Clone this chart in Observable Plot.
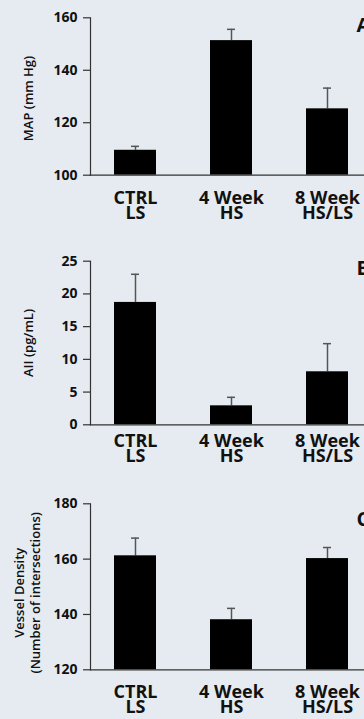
<!DOCTYPE html>
<html>
<head>
<meta charset="utf-8">
<script src="https://cdn.jsdelivr.net/npm/d3@7"></script>
<script src="https://cdn.jsdelivr.net/npm/@observablehq/plot@0.6"></script>
<style>
  html, body { margin: 0; padding: 0; background: #e5ebf1; overflow: hidden; }
  #wrap { width: 364px; height: 719px; overflow: hidden; }
  #wrap svg { display: block; overflow: hidden; }
</style>
</head>
<body>
<div id="wrap"></div>
<script>
const categories = ["CTRL LS", "4 Week HS", "8 Week HS/LS"];
const categoryLabels = ["CTRL\nLS", "4 Week\nHS", "8 Week\nHS/LS"];

const mapMean = [109.5, 151.3, 125.3];
const mapSem  = [1.5, 4.3, 7.9];
const mapTicks = [100, 120, 140, 160];

const aiiMean = [18.7, 2.9, 8.1];
const aiiSem  = [4.3, 1.3, 4.3];
const aiiTicks = [0, 5, 10, 15, 20, 25];

const vdMean = [161.2, 138.1, 160.2];
const vdSem  = [6.4, 4.1, 4.0];
const vdTicks = [120, 140, 160, 180];

const panelLetters = ["A", "B", "C"];
const yLabels = ["MAP (mm Hg)", "AII (pg/mL)", "Vessel Density\n(Number of intersections)"];

const FONT = "'Open Sans', Lato, sans-serif";

const panels = [
  {mean: mapMean, sem: mapSem, ticks: mapTicks, letter: panelLetters[0], ylabel: yLabels[0],
   height: 240, mt: 17.3, mb: 65.3, labelGap: 18, letterDy: 7.5, ylabelDy: 2, ylabelDx: -63},
  {mean: aiiMean, sem: aiiSem, ticks: aiiTicks, letter: panelLetters[1], ylabel: yLabels[1],
   height: 240, mt: 20.7, mb: 55.7, labelGap: 11, letterDy: 7, ylabelDy: 0, ylabelDx: -63},
  {mean: vdMean, sem: vdSem, ticks: vdTicks, letter: panelLetters[2], ylabel: yLabels[2],
   height: 239, mt: 23.3, mb: 49.7, labelGap: 17, letterDy: 15.7, ylabelDy: 6, ylabelDx: -64}
];

const wrap = document.getElementById("wrap");

for (const p of panels) {
  const data = categories.map((c, i) => ({cat: c, label: categoryLabels[i], mean: p.mean[i], hi: p.mean[i] + p.sem[i]}));
  const y0 = p.ticks[0], y1 = p.ticks[p.ticks.length - 1];
  const chart = Plot.plot({
    width: 364,
    height: p.height,
    marginLeft: 90,
    marginRight: 0,
    marginTop: p.mt,
    marginBottom: p.mb,
    style: {background: "transparent", fontFamily: FONT, color: "#111"},
    x: {domain: categories, range: [90, 371], paddingInner: 0.567, paddingOuter: 0.242, axis: null},
    y: {domain: [y0, y1], axis: null},
    marks: [
      Plot.ruleX(data, {x: "cat", y1: "mean", y2: "hi", stroke: "#555", strokeWidth: 1.5}),
      Plot.tickY(data, {x: "cat", y: "hi", stroke: "#555", strokeWidth: 1.5, insetLeft: 17, insetRight: 17}),
      Plot.barY(data, {x: "cat", y1: () => y0, y2: "mean", fill: "#000"}),
      Plot.axisY({ticks: p.ticks, tickSize: 7, tickPadding: 6, fontSize: 14, fontWeight: 700, stroke: "#333", fill: "#111", label: null, strokeWidth: 1.2}),
      Plot.frame({anchor: "left", stroke: "#333", strokeWidth: 1.2}),
      Plot.frame({anchor: "bottom", stroke: "#333", strokeWidth: 1.2}),
      Plot.text(data, {x: "cat", text: "label", frameAnchor: "bottom", lineAnchor: "top", dy: p.labelGap,
        fontSize: 18, fontWeight: 700, lineHeight: 0.85, fill: "#111"}),
      Plot.text([p.letter], {frameAnchor: "top-right", textAnchor: "start", lineAnchor: "middle",
        dx: -8, dy: p.letterDy, fontSize: 20, fontWeight: 700, fill: "#111"}),
      Plot.text([p.ylabel], {frameAnchor: "left", textAnchor: "middle", lineAnchor: "middle", rotate: -90,
        dx: p.ylabelDx, dy: p.ylabelDy, fontSize: 13, fontWeight: 600, lineHeight: 1.25, fill: "#111"})
    ]
  });
  wrap.appendChild(chart);
}
</script>
</body>
</html>
